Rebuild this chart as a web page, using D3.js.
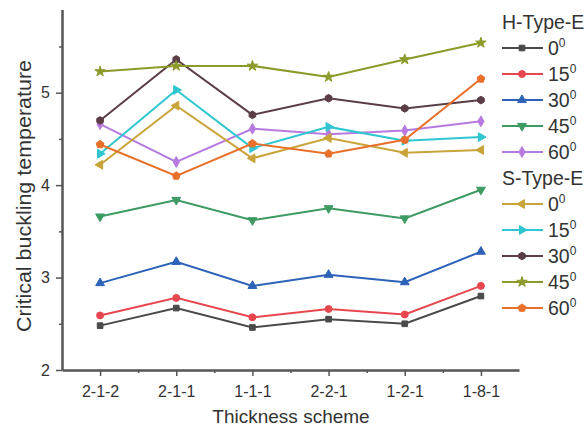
<!DOCTYPE html>
<html>
<head>
<meta charset="utf-8">
<script src="https://cdn.jsdelivr.net/npm/d3@7"></script>
<style>
  body { margin: 0; background: #fff; }
  svg { font-family: "Liberation Sans", Arial, sans-serif; }
</style>
</head>
<body>
<svg id="chart" width="586" height="433"></svg>
<script>
// thickness schemes along x
const schemes = ['2-1-2', '2-1-1', '1-1-1', '2-2-1', '1-2-1', '1-8-1'];
const yTicks = [2, 3, 4, 5];
const yMinorTicks = [2.5, 3.5, 4.5, 5.5];

// H-Type-E, by angle
const h0 = [2.48, 2.67, 2.46, 2.55, 2.50, 2.80];
const h15 = [2.59, 2.78, 2.57, 2.66, 2.60, 2.91];
const h30 = [2.94, 3.17, 2.91, 3.03, 2.95, 3.28];
const h45 = [3.66, 3.84, 3.62, 3.75, 3.64, 3.95];
const h60 = [4.66, 4.25, 4.61, 4.55, 4.59, 4.69];

// S-Type-E, by angle
const s0 = [4.22, 4.86, 4.29, 4.51, 4.35, 4.38];
const s15 = [4.34, 5.03, 4.40, 4.63, 4.48, 4.52];
const s30 = [4.70, 5.36, 4.76, 4.94, 4.83, 4.92];
const s45 = [5.23, 5.29, 5.29, 5.17, 5.36, 5.54];
const s60 = [4.44, 4.10, 4.45, 4.34, 4.49, 5.15];

const groupTitles = ['H-Type-E', 'S-Type-E'];
const angles = ['0', '15', '30', '45', '60'];

// regular polygon symbol, rotated by rot (radians)
function polygon(n, rot) {
  return {
    draw(ctx, size) {
      const r = Math.sqrt(size / (n / 2 * Math.sin(2 * Math.PI / n)));
      for (let i = 0; i < n; i++) {
        const a = rot + i * 2 * Math.PI / n;
        const px = r * Math.sin(a), py = -r * Math.cos(a);
        if (i === 0) ctx.moveTo(px, py); else ctx.lineTo(px, py);
      }
      ctx.closePath();
    }
  };
}

const series = [
  { group: 0, angle: 0, values: h0, color: '#4a4a4a', sym: d3.symbolSquare, size: 32 },
  { group: 0, angle: 1, values: h15, color: '#e8464e', sym: d3.symbolCircle, size: 38 },
  { group: 0, angle: 2, values: h30, color: '#2d62b8', sym: polygon(3, 0), size: 34 },
  { group: 0, angle: 3, values: h45, color: '#3d9a63', sym: polygon(3, Math.PI), size: 34 },
  { group: 0, angle: 4, values: h60, color: '#b77be0', sym: d3.symbolDiamond, size: 34 },
  { group: 1, angle: 0, values: s0, color: '#c9a43a', sym: polygon(3, -Math.PI / 2), size: 34 },
  { group: 1, angle: 1, values: s15, color: '#2fc6d0', sym: polygon(3, Math.PI / 2), size: 34 },
  { group: 1, angle: 2, values: s30, color: '#5b3d46', sym: polygon(6, 0), size: 38 },
  { group: 1, angle: 3, values: s45, color: '#8c9a2a', sym: d3.symbolStar, size: 34 },
  { group: 1, angle: 4, values: s60, color: '#e8702a', sym: polygon(5, 0), size: 40 }
];

const svg = d3.select('#chart');
const axisColor = '#555';
const textColor = '#333';

const x = d3.scaleLinear().domain([-0.5, schemes.length - 0.5]).range([62, 519]);
const y = d3.scaleLinear().domain([2, 5.9]).range([370, 9.5]);

// y axis
const gy = svg.append('g').attr('transform', 'translate(62,0)');
gy.call(d3.axisLeft(y).tickValues(yTicks).tickFormat(d3.format('d')).tickSize(6).tickSizeOuter(0).tickPadding(6));
svg.append('g').attr('transform', 'translate(62,0)')
  .call(d3.axisLeft(y).tickValues(yMinorTicks).tickFormat('').tickSize(3))
  .select('.domain').remove();

// x axis
const gx = svg.append('g').attr('transform', 'translate(0,370)');
gx.call(d3.axisBottom(x).tickValues(d3.range(schemes.length)).tickFormat(i => schemes[i]).tickSize(6).tickSizeOuter(0).tickPadding(10));
svg.append('g').attr('transform', 'translate(0,370)')
  .call(d3.axisBottom(x).tickValues(d3.range(schemes.length - 1).map(i => i + 0.5)).tickFormat('').tickSize(3))
  .select('.domain').remove();

svg.selectAll('.domain').attr('stroke', axisColor).attr('stroke-width', 2.5);
svg.selectAll('.tick line').attr('stroke', axisColor).attr('stroke-width', 1.5);
gy.selectAll('.tick text').attr('font-size', 16).attr('fill', textColor);
gx.selectAll('.tick text').attr('font-size', 16).attr('fill', textColor);

// axis titles
svg.append('text')
  .attr('transform', 'translate(31,196) rotate(-90)')
  .attr('text-anchor', 'middle')
  .attr('font-size', 20)
  .attr('textLength', 272)
  .attr('lengthAdjust', 'spacingAndGlyphs')
  .attr('fill', textColor)
  .text('Critical buckling temperature');

svg.append('text')
  .attr('x', 291).attr('y', 423)
  .attr('text-anchor', 'middle')
  .attr('font-size', 19)
  .attr('fill', textColor)
  .text('Thickness scheme');

// lines and markers
const line = d3.line().x((d, i) => x(i)).y(d => y(d));

const sg = svg.selectAll('.series').data(series).enter().append('g').attr('class', 'series');
sg.append('path')
  .attr('d', d => line(d.values))
  .attr('fill', 'none')
  .attr('stroke', d => d.color)
  .attr('stroke-width', 2);
sg.each(function (s) {
  d3.select(this).selectAll('path.mark').data(s.values).enter().append('path')
    .attr('class', 'mark')
    .attr('transform', (d, i) => `translate(${x(i)},${y(d)})`)
    .attr('d', d3.symbol().type(s.sym).size(s.size))
    .attr('fill', s.color)
    .attr('stroke', s.color)
    .attr('stroke-width', 1);
});

// legend
const legend = svg.append('g').attr('font-size', 19.5).attr('fill', textColor);
groupTitles.forEach((t, gi) => {
  legend.append('text').attr('x', 502).attr('y', 22 + gi * 156 + 7).text(t);
});
series.forEach(s => {
  const cy = 48 + s.group * 156 + s.angle * 26;
  const row = legend.append('g').attr('transform', `translate(0,${cy})`);
  row.append('line').attr('x1', 502).attr('x2', 543).attr('y1', 0).attr('y2', 0)
    .attr('stroke', s.color).attr('stroke-width', 2);
  row.append('path').attr('transform', 'translate(522,0)')
    .attr('d', d3.symbol().type(s.sym).size(s.size))
    .attr('fill', s.color).attr('stroke', s.color);
  const t = row.append('text').attr('x', 548).attr('y', 7);
  t.append('tspan').text(angles[s.angle]);
  t.append('tspan').attr('font-size', 12).attr('dy', -8).text('0');
});
</script>
</body>
</html>
